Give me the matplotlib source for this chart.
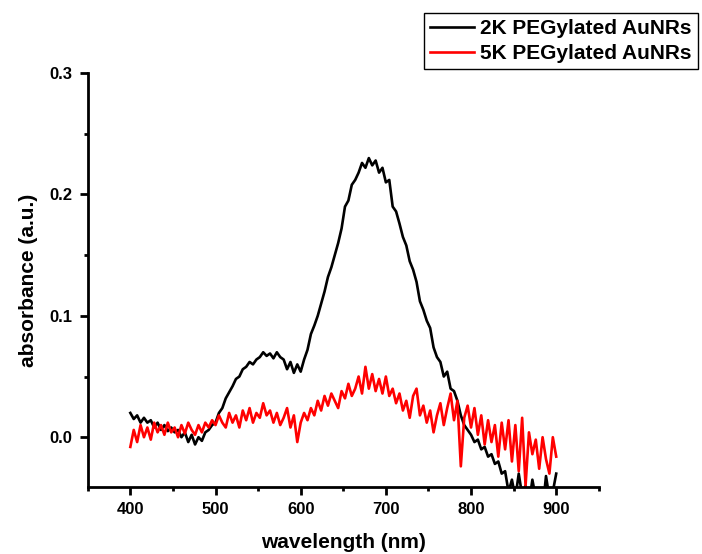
import numpy as np
import matplotlib
matplotlib.use("Agg")
import matplotlib.pyplot as plt
from matplotlib.ticker import MultipleLocator

plt.rcParams['font.family'] = ['Liberation Sans', 'DejaVu Sans']
plt.rcParams['font.weight'] = 'bold'

# wavelength grid (nm), 4 nm steps
wavelength = np.arange(400, 901, 4)

# absorbance of 2K PEGylated AuNRs
abs_2k = [
    0.020, 0.015, 0.018, 0.012, 0.016, 0.012, 0.014, 0.008, 0.012, 0.006,
    0.010, 0.005, 0.008, 0.004, 0.006, 0.000, 0.004, -0.004, 0.002, -0.006,
    0.000, -0.003, 0.004, 0.006, 0.010, 0.012, 0.020, 0.024, 0.032, 0.037,
    0.042, 0.048, 0.050, 0.056, 0.058, 0.062, 0.060, 0.064, 0.066, 0.070,
    0.067, 0.069, 0.065, 0.070, 0.066, 0.064, 0.056, 0.062, 0.053, 0.060,
    0.054, 0.064, 0.072, 0.085, 0.092, 0.100, 0.110, 0.120, 0.132, 0.140,
    0.150, 0.160, 0.172, 0.190, 0.195, 0.208, 0.212, 0.218, 0.226, 0.222,
    0.230, 0.224, 0.228, 0.218, 0.222, 0.210, 0.212, 0.190, 0.186, 0.176,
    0.165, 0.158, 0.145, 0.138, 0.128, 0.112, 0.105, 0.096, 0.090, 0.074,
    0.066, 0.062, 0.050, 0.054, 0.040, 0.038, 0.030, 0.018, 0.010, 0.006,
    0.002, -0.004, -0.002, -0.010, -0.008, -0.016, -0.014, -0.022, -0.020, -0.030,
    -0.028, -0.045, -0.035, -0.050, -0.030, -0.048, -0.040, -0.055, -0.035, -0.050,
    -0.045, -0.060, -0.032, -0.050, -0.045, -0.030,
]

# absorbance of 5K PEGylated AuNRs
abs_5k = [
    -0.008, 0.006, -0.004, 0.010, 0.000, 0.008, -0.002, 0.012, 0.004, 0.010,
    0.002, 0.012, 0.004, 0.008, 0.000, 0.010, 0.003, 0.012, 0.006, 0.002,
    0.010, 0.004, 0.012, 0.008, 0.014, 0.010, 0.018, 0.012, 0.008, 0.020,
    0.012, 0.018, 0.008, 0.022, 0.014, 0.024, 0.012, 0.020, 0.016, 0.028,
    0.018, 0.022, 0.012, 0.020, 0.010, 0.016, 0.024, 0.008, 0.018, -0.004,
    0.012, 0.020, 0.014, 0.024, 0.018, 0.030, 0.022, 0.034, 0.026, 0.036,
    0.030, 0.024, 0.038, 0.032, 0.044, 0.034, 0.040, 0.050, 0.036, 0.058,
    0.040, 0.052, 0.038, 0.048, 0.036, 0.050, 0.034, 0.040, 0.028, 0.036,
    0.022, 0.030, 0.016, 0.034, 0.040, 0.018, 0.026, 0.012, 0.022, 0.004,
    0.018, 0.028, 0.010, 0.024, 0.036, 0.014, 0.030, -0.024, 0.016, 0.026,
    0.008, 0.024, 0.002, 0.018, -0.006, 0.014, -0.004, 0.010, -0.016, 0.012,
    -0.010, 0.014, -0.020, 0.010, -0.028, 0.016, -0.040, 0.004, -0.014, -0.002,
    -0.026, 0.000, -0.018, -0.030, 0.000, -0.016,
]

labels = ["2K PEGylated AuNRs", "5K PEGylated AuNRs"]
x_ticks = [400, 500, 600, 700, 800, 900]
y_ticks = [0.0, 0.1, 0.2, 0.3]

fig = plt.figure(figsize=(7.02, 5.54), dpi=100)
ax = fig.add_axes([0.125, 0.121, 0.728, 0.747])

ax.plot(wavelength, abs_2k, color='black', lw=1.9, label=labels[0])
ax.plot(wavelength, abs_5k, color='red', lw=1.9, label=labels[1])

ax.set_xlim(350, 950)
ax.set_ylim(-0.041, 0.3)
ax.set_xticks(x_ticks)
ax.set_yticks(y_ticks)
ax.set_yticklabels([f"{v:.1f}" for v in y_ticks])
ax.xaxis.set_minor_locator(MultipleLocator(50))
ax.yaxis.set_minor_locator(MultipleLocator(0.05))

for side in ('top', 'right'):
    ax.spines[side].set_visible(False)
for side in ('left', 'bottom'):
    ax.spines[side].set_linewidth(2)

ax.tick_params(which='major', direction='out', length=6, width=2, labelsize=12, pad=5)
ax.tick_params(which='minor', direction='out', length=3, width=2)

ax.set_xlabel("wavelength (nm)", fontsize=15, fontweight='bold', labelpad=11)
ax.set_ylabel("absorbance (a.u.)", fontsize=15, fontweight='bold', labelpad=8)

leg = fig.legend(loc='upper right', bbox_to_anchor=(0.994, 0.977),
                 prop={'size': 15, 'weight': 'bold'}, frameon=True, fancybox=False,
                 edgecolor='black', framealpha=1, handlelength=2.1, handletextpad=0.3,
                 labelspacing=0.3, borderpad=0.3, borderaxespad=0.0)
leg.get_frame().set_linewidth(1.0)

fig.savefig("out.png", dpi=100)
